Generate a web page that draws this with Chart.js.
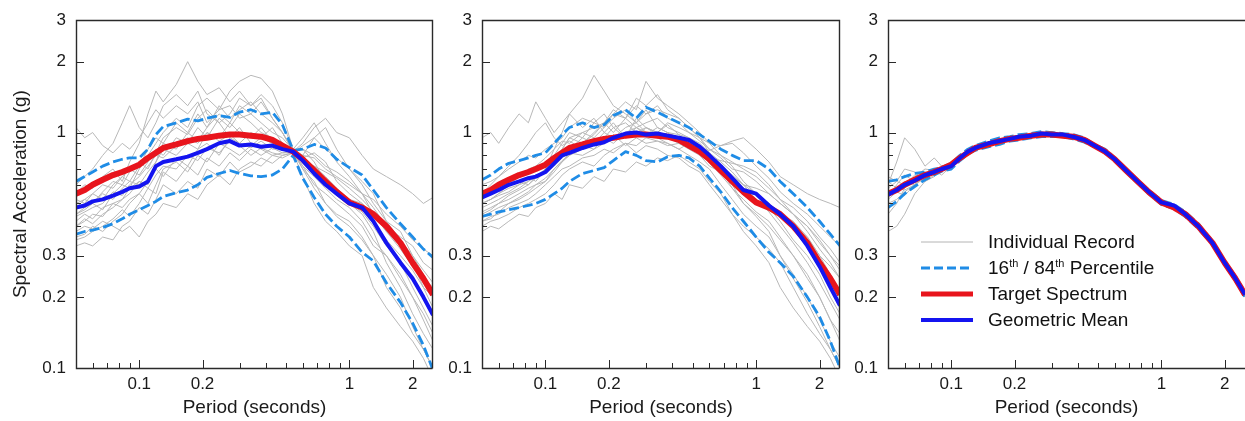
<!DOCTYPE html>
<html>
<head>
<meta charset="utf-8">
<script src="https://cdn.jsdelivr.net/npm/chart.js@4.4.1/dist/chart.umd.min.js"></script>
<style>
  body { margin: 0; background: #fff; width: 1245px; height: 421px; overflow: hidden; position: relative;
         font-family: "Liberation Sans", Arial, sans-serif; color: #111; }
  canvas { position: absolute; top: 0; }
  #legend { position: absolute; left: 921px; top: 229px; width: 300px; height: 110px; }
  #legend .row { position: absolute; left: 0; height: 26px; display: flex; align-items: center; }
  #legend svg { width: 52px; height: 10px; margin-right: 15px; }
  #legend span { font-size: 19px; line-height: 26px; white-space: nowrap; }
  #legend sup { font-size: 11px; vertical-align: 7px; line-height: 0; }
</style>
</head>
<body>
<canvas id="c1" width="440" height="421" style="left:0"></canvas>
<canvas id="c2" width="410" height="421" style="left:440px"></canvas>
<canvas id="c3" width="395" height="421" style="left:850px"></canvas>

<div id="legend">
  <div class="row" style="top:0"><svg><line x1="0" y1="5" x2="52" y2="5" stroke="#b4b4b4" stroke-width="1"/></svg><span>Individual Record</span></div>
  <div class="row" style="top:26px"><svg><line x1="0" y1="5" x2="52" y2="5" stroke="#1f8ce6" stroke-width="3" stroke-dasharray="9 4"/></svg><span>16<sup>th</sup> / 84<sup>th</sup> Percentile</span></div>
  <div class="row" style="top:52px"><svg><line x1="0" y1="5" x2="52" y2="5" stroke="#e8141c" stroke-width="5"/></svg><span>Target Spectrum</span></div>
  <div class="row" style="top:78px"><svg><line x1="0" y1="5" x2="52" y2="5" stroke="#1414f0" stroke-width="4"/></svg><span>Geometric Mean</span></div>
</div>

<script>
// Period grid (s) shared by every curve
const periods = [0.05,0.055,0.06,0.067,0.075,0.083,0.09,0.1,0.11,0.12,0.13,0.15,0.17,0.19,0.21,0.24,0.27,0.3,0.34,0.38,0.43,0.48,0.54,0.6,0.68,0.77,0.87,1.0,1.15,1.3,1.5,1.75,2.0,2.25,2.5];

// Target spectrum (same in every panel)
const target = [0.55,0.57,0.60,0.63,0.66,0.68,0.70,0.73,0.78,0.82,0.86,0.89,0.92,0.94,0.95,0.97,0.98,0.98,0.97,0.96,0.93,0.88,0.83,0.77,0.69,0.62,0.56,0.505,0.48,0.45,0.40,0.34,0.28,0.24,0.205];

// Panel 1 — unscaled records
const gm1   = [0.48,0.49,0.51,0.52,0.54,0.56,0.58,0.59,0.62,0.72,0.75,0.77,0.79,0.82,0.85,0.90,0.92,0.88,0.89,0.87,0.88,0.85,0.83,0.76,0.67,0.60,0.55,0.50,0.48,0.42,0.34,0.28,0.24,0.20,0.168];
const p84_1 = [0.62,0.65,0.68,0.72,0.75,0.77,0.78,0.78,0.85,0.98,1.06,1.10,1.14,1.12,1.15,1.18,1.16,1.22,1.25,1.20,1.22,1.08,0.84,0.85,0.89,0.86,0.77,0.71,0.66,0.57,0.48,0.41,0.36,0.32,0.295];
const p16_1 = [0.37,0.38,0.385,0.395,0.41,0.43,0.45,0.47,0.49,0.51,0.535,0.555,0.57,0.60,0.645,0.67,0.69,0.67,0.655,0.65,0.66,0.70,0.80,0.64,0.53,0.45,0.40,0.36,0.31,0.285,0.23,0.19,0.155,0.125,0.098];
const records1 = [
  [1.05,0.95,1.0,0.88,0.82,0.9,0.85,0.95,1.1,1.25,1.15,1.3,1.2,1.35,1.1,1.25,1.3,1.15,1.2,1.1,1.0,0.95,0.84,0.80,0.95,1.05,0.85,0.7,0.6,0.5,0.42,0.38,0.3,0.25,0.2],
  [0.55,0.6,0.58,0.65,0.7,0.62,0.75,0.9,1.2,1.5,1.35,1.6,2.0,1.65,1.45,1.55,1.35,1.5,1.3,1.4,1.15,1.0,0.83,0.72,0.6,0.55,0.5,0.45,0.4,0.33,0.3,0.24,0.2,0.16,0.13],
  [0.33,0.34,0.33,0.36,0.35,0.4,0.42,0.48,0.45,0.52,0.6,0.55,0.62,0.58,0.7,0.65,0.75,0.68,0.72,0.78,0.74,0.8,0.82,0.7,0.62,0.5,0.44,0.4,0.35,0.3,0.22,0.18,0.14,0.12,0.1],
  [0.45,0.48,0.5,0.47,0.55,0.6,0.58,0.7,0.8,0.9,1.0,1.15,1.05,1.3,1.4,1.25,1.5,1.65,1.75,1.7,1.5,1.2,0.85,0.95,1.1,0.9,0.75,0.65,0.55,0.52,0.45,0.4,0.35,0.32,0.3],
  [0.4,0.42,0.45,0.44,0.5,0.52,0.55,0.62,0.6,0.75,0.85,0.8,0.9,0.85,1.0,0.95,1.1,1.0,0.95,1.05,0.92,0.88,0.83,0.9,1.05,1.15,1.0,0.95,0.8,0.7,0.65,0.6,0.55,0.5,0.53],
  [0.38,0.4,0.39,0.42,0.4,0.38,0.4,0.36,0.42,0.45,0.5,0.48,0.55,0.52,0.6,0.66,0.6,0.7,0.75,0.72,0.8,0.78,0.82,0.65,0.5,0.42,0.38,0.33,0.3,0.22,0.18,0.15,0.13,0.11,0.09],
  [0.5,0.52,0.55,0.6,0.58,0.65,0.7,0.66,0.75,0.85,0.8,0.95,0.9,1.05,0.95,1.15,1.05,1.2,1.1,1.0,0.95,0.9,0.84,0.75,0.72,0.65,0.58,0.52,0.5,0.42,0.35,0.3,0.26,0.22,0.2],
  [0.6,0.65,0.7,0.8,0.9,1.1,1.3,1.05,0.95,1.1,1.3,1.45,1.3,1.5,1.2,1.1,0.95,1.05,0.9,0.85,0.8,0.82,0.83,0.8,0.78,0.7,0.65,0.6,0.55,0.45,0.38,0.35,0.28,0.22,0.18],
  [0.42,0.45,0.43,0.48,0.5,0.48,0.52,0.55,0.5,0.6,0.7,0.75,0.68,0.8,0.75,0.9,0.85,0.8,0.88,0.95,0.9,0.85,0.83,0.72,0.65,0.58,0.52,0.48,0.42,0.35,0.3,0.25,0.2,0.17,0.14],
  [0.36,0.37,0.4,0.38,0.42,0.45,0.5,0.55,0.62,0.7,0.65,0.78,0.72,0.85,0.9,0.8,0.95,0.9,1.0,0.95,1.05,0.9,0.84,0.85,0.75,0.62,0.55,0.5,0.45,0.38,0.28,0.22,0.17,0.14,0.12],
  [0.45,0.47,0.5,0.55,0.52,0.58,0.62,0.6,0.68,0.75,0.9,0.85,1.0,0.92,1.05,1.2,1.1,1.3,1.2,1.35,1.15,1.0,0.83,0.85,0.8,0.72,0.68,0.62,0.55,0.48,0.4,0.36,0.33,0.28,0.26],
  [0.44,0.46,0.48,0.5,0.56,0.54,0.6,0.65,0.72,0.8,0.78,0.88,0.95,0.9,1.0,0.92,0.98,0.9,0.86,0.92,0.85,0.86,0.83,0.78,0.82,0.75,0.62,0.55,0.5,0.45,0.38,0.33,0.28,0.24,0.22],
  [0.35,0.36,0.38,0.4,0.43,0.47,0.44,0.5,0.58,0.55,0.68,0.62,0.72,0.66,0.78,0.72,0.82,0.76,0.85,0.8,0.86,0.82,0.82,0.88,0.95,0.85,0.78,0.7,0.62,0.55,0.42,0.35,0.3,0.26,0.23],
  [0.52,0.5,0.55,0.52,0.6,0.65,0.62,0.72,0.85,0.95,0.9,1.1,1.0,1.2,1.05,1.3,1.15,1.25,1.35,1.2,1.1,1.0,0.84,0.7,0.58,0.5,0.45,0.42,0.36,0.3,0.25,0.2,0.15,0.12,0.1],
  [0.4,0.43,0.41,0.45,0.48,0.52,0.58,0.62,0.58,0.66,0.72,0.7,0.8,0.76,0.86,0.82,0.92,0.88,0.8,0.86,0.82,0.8,0.82,0.76,0.72,0.68,0.64,0.58,0.52,0.46,0.38,0.32,0.27,0.24,0.21],
  [0.48,0.52,0.5,0.56,0.62,0.6,0.68,0.75,0.7,0.82,0.95,1.05,0.98,1.15,1.25,1.1,1.2,1.4,1.3,1.45,1.3,1.1,0.85,0.8,0.7,0.62,0.58,0.5,0.46,0.4,0.33,0.28,0.22,0.18,0.15]
];

// Panel 2 — amplitude-scaled records
const gm2   = [0.53,0.55,0.57,0.60,0.62,0.64,0.65,0.68,0.74,0.80,0.82,0.86,0.89,0.91,0.95,0.99,1.0,0.98,0.99,0.97,0.95,0.93,0.87,0.80,0.72,0.64,0.57,0.55,0.49,0.45,0.40,0.33,0.27,0.22,0.184];
const p84_2 = [0.63,0.66,0.70,0.74,0.76,0.78,0.80,0.82,0.90,0.98,1.05,1.10,1.05,1.08,1.18,1.25,1.15,1.28,1.22,1.16,1.10,1.05,0.98,0.92,0.85,0.80,0.76,0.76,0.70,0.62,0.55,0.48,0.42,0.37,0.33];
const p16_2 = [0.44,0.45,0.46,0.47,0.48,0.49,0.50,0.52,0.55,0.58,0.62,0.67,0.69,0.71,0.76,0.83,0.80,0.76,0.75,0.79,0.80,0.78,0.72,0.64,0.56,0.48,0.42,0.36,0.31,0.28,0.245,0.20,0.165,0.13,0.10];
const records2 = [
  [0.95,1.0,0.9,1.05,1.2,1.1,1.35,1.15,1.0,1.1,1.2,1.05,1.15,1.0,1.1,0.95,1.05,1.0,0.95,0.9,0.85,0.9,0.8,0.75,0.7,0.62,0.58,0.55,0.5,0.45,0.4,0.36,0.3,0.27,0.24],
  [0.5,0.52,0.55,0.58,0.6,0.65,0.62,0.7,0.85,1.0,1.2,1.4,1.75,1.5,1.3,1.2,1.1,1.25,1.05,1.0,0.95,0.85,0.8,0.72,0.68,0.6,0.5,0.45,0.4,0.35,0.3,0.25,0.2,0.16,0.13],
  [0.38,0.4,0.39,0.42,0.45,0.44,0.48,0.5,0.55,0.52,0.6,0.58,0.65,0.62,0.7,0.68,0.75,0.72,0.78,0.76,0.8,0.75,0.7,0.62,0.55,0.45,0.38,0.33,0.28,0.22,0.18,0.15,0.13,0.11,0.09],
  [0.55,0.58,0.6,0.62,0.65,0.68,0.7,0.75,0.8,0.9,1.0,0.95,1.1,1.05,1.2,1.35,1.25,1.65,1.4,1.3,1.2,1.1,1.0,0.9,0.8,0.72,0.62,0.55,0.5,0.45,0.42,0.36,0.3,0.25,0.2],
  [0.45,0.47,0.5,0.52,0.55,0.58,0.6,0.62,0.7,0.75,0.8,0.85,0.9,0.95,0.9,1.0,0.95,1.05,1.0,1.1,1.05,1.0,0.95,0.9,0.88,0.92,0.95,0.85,0.75,0.65,0.6,0.55,0.52,0.5,0.48],
  [0.42,0.44,0.45,0.48,0.5,0.52,0.55,0.6,0.65,0.7,0.72,0.78,0.8,0.85,0.82,0.9,0.88,0.95,0.92,0.9,0.85,0.8,0.75,0.7,0.6,0.52,0.45,0.4,0.36,0.3,0.25,0.2,0.16,0.13,0.11],
  [0.5,0.52,0.55,0.6,0.62,0.6,0.65,0.7,0.75,0.85,0.95,1.0,1.05,1.1,1.2,1.15,1.3,1.2,1.25,1.2,1.15,1.05,0.95,0.85,0.78,0.7,0.68,0.62,0.55,0.5,0.45,0.4,0.34,0.3,0.26],
  [0.48,0.5,0.52,0.55,0.58,0.62,0.65,0.68,0.72,0.78,0.82,0.8,0.85,0.9,0.95,1.0,1.05,0.98,1.05,1.0,0.98,0.95,0.9,0.82,0.75,0.68,0.6,0.55,0.48,0.42,0.35,0.3,0.25,0.2,0.17],
  [0.6,0.62,0.65,0.7,0.75,0.8,0.78,0.85,0.9,0.95,1.05,1.15,1.1,1.2,1.05,1.1,1.0,1.05,0.98,0.95,0.9,0.85,0.82,0.75,0.7,0.65,0.6,0.58,0.55,0.5,0.45,0.38,0.32,0.28,0.24],
  [0.4,0.42,0.43,0.45,0.48,0.5,0.52,0.55,0.6,0.66,0.7,0.75,0.72,0.8,0.85,0.9,0.82,0.88,0.85,0.8,0.78,0.72,0.68,0.6,0.52,0.45,0.4,0.36,0.32,0.28,0.22,0.17,0.14,0.12,0.1],
  [0.52,0.55,0.58,0.6,0.65,0.7,0.72,0.78,0.85,0.92,0.9,1.0,0.95,1.05,1.15,1.25,1.1,1.2,1.3,1.15,1.1,1.0,0.92,0.85,0.8,0.75,0.7,0.65,0.58,0.52,0.48,0.42,0.36,0.32,0.28],
  [0.46,0.48,0.5,0.54,0.57,0.6,0.64,0.7,0.78,0.85,0.95,0.9,1.0,1.1,1.0,1.15,1.05,1.1,1.15,1.05,1.0,0.95,0.88,0.8,0.72,0.66,0.6,0.52,0.46,0.4,0.34,0.28,0.23,0.19,0.16],
  [0.55,0.6,0.65,0.72,0.8,0.9,1.0,1.1,0.95,0.88,0.92,0.85,0.95,0.9,0.98,0.88,0.95,0.9,0.92,0.88,0.9,0.86,0.82,0.78,0.76,0.74,0.72,0.68,0.6,0.52,0.45,0.4,0.35,0.3,0.27],
  [0.44,0.46,0.48,0.5,0.52,0.55,0.58,0.62,0.68,0.75,0.82,0.9,0.98,1.1,1.25,1.15,1.4,1.3,1.45,1.25,1.15,1.05,0.95,0.82,0.7,0.58,0.5,0.44,0.38,0.3,0.24,0.19,0.15,0.12,0.1],
  [0.5,0.52,0.54,0.56,0.6,0.62,0.66,0.68,0.72,0.8,0.85,0.95,0.9,1.0,0.95,1.05,1.1,1.0,0.95,1.0,0.92,0.88,0.86,0.84,0.88,0.9,0.82,0.72,0.64,0.56,0.5,0.45,0.4,0.36,0.33],
  [0.42,0.43,0.46,0.5,0.53,0.56,0.6,0.64,0.7,0.76,0.8,0.88,0.85,0.95,1.05,0.95,1.15,1.05,1.0,1.08,0.98,0.9,0.82,0.74,0.66,0.58,0.52,0.46,0.42,0.36,0.3,0.24,0.2,0.16,0.14]
];

// Panel 3 — spectrum-matched records
const gm3   = [0.545,0.57,0.60,0.625,0.66,0.68,0.70,0.72,0.78,0.83,0.86,0.90,0.92,0.94,0.96,0.97,0.99,0.98,0.98,0.96,0.93,0.88,0.83,0.77,0.69,0.62,0.56,0.505,0.49,0.45,0.40,0.34,0.28,0.24,0.205];
const p84_3 = [0.62,0.63,0.65,0.67,0.68,0.70,0.71,0.74,0.80,0.85,0.88,0.92,0.95,0.96,0.98,0.99,1.01,1.0,0.99,0.98,0.95,0.89,0.85,0.78,0.70,0.63,0.57,0.515,0.495,0.46,0.41,0.345,0.285,0.245,0.21];
const p16_3 = [0.48,0.51,0.55,0.59,0.63,0.66,0.685,0.70,0.76,0.81,0.84,0.87,0.89,0.92,0.93,0.95,0.96,0.96,0.96,0.94,0.91,0.87,0.82,0.76,0.68,0.61,0.55,0.495,0.475,0.44,0.39,0.335,0.275,0.235,0.20];
const records3 = [
  [0.6,0.75,0.95,0.85,0.72,0.78,0.72,0.73,0.8,0.84,0.85,0.9,0.94,0.93,0.97,0.96,1.0,0.97,0.98,0.95,0.94,0.87,0.84,0.76,0.70,0.61,0.57,0.5,0.49,0.44,0.41,0.34,0.285,0.24,0.205],
  [0.38,0.4,0.45,0.55,0.62,0.66,0.7,0.72,0.77,0.8,0.87,0.88,0.9,0.95,0.94,0.98,0.97,0.99,0.96,0.97,0.92,0.89,0.82,0.78,0.68,0.63,0.55,0.51,0.47,0.45,0.39,0.34,0.28,0.24,0.205],
  [0.5,0.52,0.56,0.6,0.65,0.7,0.68,0.74,0.76,0.83,0.84,0.9,0.91,0.95,0.93,0.98,0.96,1.0,0.96,0.98,0.93,0.87,0.84,0.76,0.70,0.62,0.57,0.5,0.49,0.45,0.41,0.335,0.28,0.24,0.2],
  [0.65,0.62,0.6,0.66,0.64,0.67,0.72,0.71,0.79,0.8,0.88,0.87,0.93,0.92,0.97,0.95,0.99,0.97,0.99,0.95,0.94,0.89,0.82,0.78,0.69,0.63,0.56,0.51,0.48,0.46,0.40,0.345,0.28,0.245,0.205],
  [0.55,0.58,0.62,0.6,0.68,0.66,0.7,0.74,0.77,0.84,0.85,0.89,0.93,0.93,0.96,0.97,0.98,0.99,0.97,0.96,0.93,0.88,0.84,0.77,0.69,0.62,0.56,0.505,0.48,0.45,0.40,0.34,0.28,0.24,0.205],
  [0.45,0.5,0.58,0.65,0.7,0.69,0.66,0.72,0.79,0.81,0.86,0.9,0.91,0.94,0.95,0.96,0.99,0.98,0.98,0.96,0.92,0.88,0.83,0.77,0.70,0.62,0.56,0.5,0.48,0.44,0.40,0.34,0.28,0.235,0.2],
  [0.58,0.62,0.7,0.68,0.62,0.65,0.71,0.73,0.78,0.82,0.87,0.88,0.92,0.95,0.94,0.97,0.98,0.97,0.98,0.97,0.93,0.89,0.83,0.77,0.69,0.62,0.565,0.51,0.485,0.45,0.405,0.34,0.285,0.24,0.205],
  [0.52,0.56,0.54,0.6,0.67,0.7,0.69,0.73,0.78,0.8,0.86,0.89,0.92,0.93,0.96,0.97,0.97,0.98,0.97,0.95,0.94,0.88,0.83,0.78,0.69,0.63,0.56,0.505,0.48,0.45,0.40,0.34,0.28,0.24,0.205],
  [0.53,0.6,0.66,0.62,0.66,0.7,0.69,0.75,0.77,0.84,0.85,0.91,0.9,0.95,0.94,0.98,0.97,1.01,0.97,0.97,0.95,0.87,0.85,0.76,0.71,0.61,0.575,0.5,0.495,0.44,0.41,0.335,0.285,0.235,0.205],
  [0.62,0.58,0.57,0.6,0.64,0.67,0.71,0.72,0.79,0.81,0.85,0.89,0.93,0.92,0.96,0.96,0.99,0.97,0.98,0.96,0.92,0.89,0.82,0.77,0.68,0.63,0.555,0.51,0.475,0.455,0.395,0.345,0.275,0.245,0.2]
];

// Axis ticks
const xTickLabels = [0.1, 0.2, 1, 2];
const xMinorTicks = [0.06, 0.07, 0.08, 0.09, 0.3, 0.4, 0.5, 0.6, 0.7, 0.8, 0.9];
const yTickLabels = [0.1, 0.2, 0.3, 1, 2, 3];
const yMinorTicks = [0.4, 0.5, 0.6, 0.7, 0.8, 0.9];

const FONT = '"Liberation Sans", Arial, sans-serif';
const INK = '#1a1a1a';

const pts = (vals) => periods.map((t, i) => ({ x: t, y: vals[i] }));

// inward tick marks + plot frame, placed through the chart's own scales
const frameTicks = {
  id: 'frameTicks',
  afterDatasetsDraw(chart, args, opts) {
    const { ctx, chartArea: a, scales: { x, y } } = chart;
    ctx.save();
    ctx.strokeStyle = '#2a2a2a';
    ctx.lineWidth = 1;
    ctx.beginPath();
    const xt = (v, len) => { const p = Math.round(x.getPixelForValue(v)) + 0.5; ctx.moveTo(p, a.bottom); ctx.lineTo(p, a.bottom - len); };
    const yt = (v, len) => { const p = Math.round(y.getPixelForValue(v)) + 0.5; ctx.moveTo(a.left, p); ctx.lineTo(a.left + len, p); };
    xTickLabels.forEach(v => xt(v, 8));
    xMinorTicks.forEach(v => xt(v, 5));
    yTickLabels.forEach(v => yt(v, 8));
    yMinorTicks.forEach(v => yt(v, 5));
    ctx.stroke();

    ctx.lineWidth = 1.4;
    ctx.beginPath();
    const L = Math.round(a.left) + 0.5, R = Math.round(a.right) - 0.5;
    const T = Math.round(a.top) + 0.5, B = Math.round(a.bottom) + 0.5;
    if (opts.right) { ctx.moveTo(R, B); ctx.lineTo(R, T); } else { ctx.moveTo(a.right + 2, T); }
    ctx.lineTo(L, T);
    ctx.lineTo(L, B);
    ctx.lineTo(opts.right ? R : a.right + 2, B);
    ctx.stroke();
    ctx.restore();
  }
};

function makePanel(id, records, p84, p16, gm, cfg) {
  const datasets = [
    { data: pts(gm), borderColor: '#1414f0', borderWidth: 4, order: 0 },
    { data: pts(target), borderColor: '#e8141c', borderWidth: 6, order: 1 },
    { data: pts(p84), borderColor: '#1f8ce6', borderWidth: 2.8, borderDash: [10, 4], order: 2 },
    { data: pts(p16), borderColor: '#1f8ce6', borderWidth: 2.8, borderDash: [10, 4], order: 2 },
    ...records.map(r => ({ data: pts(r), borderColor: '#b8b8b8', borderWidth: 1, order: 3 }))
  ];
  datasets.forEach(d => { d.pointRadius = 0; d.fill = false; d.tension = 0; d.borderJoinStyle = 'round'; });

  new Chart(document.getElementById(id), {
    type: 'line',
    data: { datasets },
    plugins: [frameTicks],
    options: {
      responsive: false,
      animation: false,
      events: [],
      layout: { padding: { left: 0, right: cfg.padRight, top: 9, bottom: 0 } },
      plugins: {
        legend: { display: false },
        tooltip: { enabled: false },
        frameTicks: { right: cfg.frameRight }
      },
      scales: {
        x: {
          type: 'logarithmic', min: 0.05, max: 2.5,
          grid: { display: false, drawTicks: false },
          border: { display: false },
          afterBuildTicks: s => { s.ticks = xTickLabels.map(v => ({ value: v })); },
          afterFit: s => { s.height = 53; },
          ticks: { autoSkip: false, maxRotation: 0, padding: 6, color: INK,
                   font: { family: FONT, size: 17 }, callback: v => String(v) },
          title: { display: true, text: 'Period (seconds)', color: INK,
                   font: { family: FONT, size: 19 }, padding: { top: 0, bottom: 2 } }
        },
        y: {
          type: 'logarithmic', min: 0.1, max: 3,
          grid: { display: false, drawTicks: false },
          border: { display: false },
          afterBuildTicks: s => { s.ticks = yTickLabels.map(v => ({ value: v })); },
          afterFit: s => { s.width = cfg.yWidth; },
          ticks: { autoSkip: false, padding: 10, color: INK,
                   font: { family: FONT, size: 17 }, callback: v => String(v) },
          title: { display: cfg.yTitle, text: 'Spectral Acceleration (g)', color: INK,
                   font: { family: FONT, size: 19 }, padding: { top: 9, bottom: 0 } }
        }
      }
    }
  });
}

makePanel('c1', records1, p84_1, p16_1, gm1, { yWidth: 76, padRight: 7, frameRight: true, yTitle: true });
makePanel('c2', records2, p84_2, p16_2, gm2, { yWidth: 42, padRight: 10, frameRight: true, yTitle: false });
makePanel('c3', records3, p84_3, p16_3, gm3, { yWidth: 38, padRight: 0, frameRight: false, yTitle: false });
</script>
</body>
</html>
